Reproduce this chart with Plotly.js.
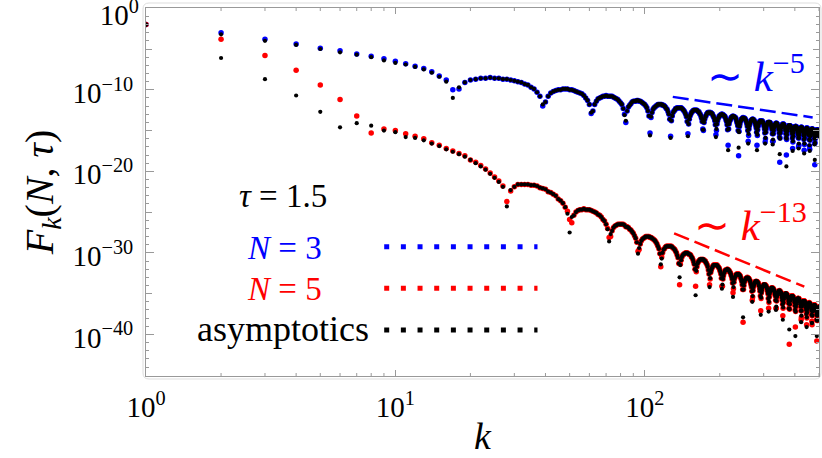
<!DOCTYPE html>
<html><head><meta charset="utf-8">
<script src="https://cdn.plot.ly/plotly-3.0.1.min.js"></script>
<style>html,body{margin:0;padding:0;background:#fff;}#chart{width:822px;height:458px;}</style>
</head><body><div id="chart"></div>
<script>
// k = 1 .. 500 ; values are log10 of F_k(N, tau), tau = 1.5
const kFirst = 1, kLast = 500;

// N = 3 (blue)
const log10F_N3 = [
-2.0,-3.0,-3.8,-4.4,-4.9,-5.2,-5.6,-5.9,-6.2,-6.5,
-6.8,-7.1,-7.4,-7.8,-8.3,-8.8,-10.0,-9.9,-9.1,
-8.8,-8.7,-8.6,-8.6,-8.5,-8.6,-8.6,-8.7,-8.7,-8.8,-8.9,-9.0,-9.1,-9.3,-9.4,-9.7,-9.9,-10.3,-10.8,-12.0,
-11.5,-10.8,-10.4,-10.2,-10.1,-10.0,-10.0,-9.9,-9.9,-9.9,-10.0,-10.0,-10.1,-10.2,-10.3,-10.4,-10.5,-10.7,-11.0,-11.3,-11.8,-12.9,
-12.6,-11.8,-11.4,-11.1,-11.0,-10.9,-10.8,-10.8,-10.7,-10.8,-10.8,-10.8,-10.8,-10.9,-11.0,-11.1,-11.2,-11.4,-11.6,-11.8,-12.3,-13.0,-14.0,
-12.6,-12.1,-11.9,-11.7,-11.5,-11.4,-11.4,-11.4,-11.3,-11.3,-11.4,-11.4,-11.5,-11.6,-11.7,-11.8,-12.0,-12.2,-12.6,-13.2,-15.3,
-13.4,-12.8,-12.4,-12.2,-12.1,-12.0,-11.9,-11.8,-11.8,-11.8,-11.8,-11.8,-11.9,-11.9,-12.0,-12.1,-12.3,-12.4,-12.7,-13.0,-13.6,-15.7,
-13.8,-13.2,-12.8,-12.6,-12.5,-12.3,-12.3,-12.2,-12.2,-12.2,-12.2,-12.2,-12.2,-12.3,-12.4,-12.5,-12.6,-12.8,-13.0,-13.3,-13.9,-15.4,
-14.2,-13.6,-13.2,-13.0,-12.8,-12.7,-12.6,-12.5,-12.5,-12.5,-12.5,-12.5,-12.5,-12.6,-12.7,-12.7,-12.9,-13.0,-13.2,-13.5,-13.9,-14.8,-15.0,
-14.0,-13.6,-13.3,-13.2,-13.0,-12.9,-12.8,-12.8,-12.8,-12.8,-12.8,-12.8,-12.9,-12.9,-13.0,-13.2,-13.3,-13.5,-13.8,-14.3,-15.5,-15.0,
-14.2,-13.8,-13.5,-13.4,-13.2,-13.2,-13.1,-13.1,-13.0,-13.0,-13.0,-13.1,-13.1,-13.2,-13.2,-13.3,-13.5,-13.7,-13.9,-14.3,-14.9,-16.8,
-14.8,-14.2,-13.9,-13.7,-13.6,-13.4,-13.4,-13.3,-13.3,-13.2,-13.3,-13.3,-13.3,-13.4,-13.4,-13.5,-13.7,-13.9,-14.1,-14.4,-15.0,-18.1,-15.1,
-14.5,-14.2,-13.9,-13.8,-13.6,-13.6,-13.5,-13.5,-13.4,-13.5,-13.5,-13.5,-13.5,-13.6,-13.7,-13.8,-14.0,-14.2,-14.5,-15.0,-16.3,-15.6,
-14.8,-14.4,-14.2,-14.0,-13.9,-13.8,-13.7,-13.7,-13.6,-13.6,-13.6,-13.7,-13.7,-13.8,-13.9,-14.0,-14.2,-14.4,-14.7,-15.2,-16.8,-15.6,
-14.9,-14.5,-14.3,-14.1,-14.0,-13.9,-13.9,-13.8,-13.8,-13.8,-13.8,-13.8,-13.9,-13.9,-14.0,-14.1,-14.3,-14.5,-14.8,-15.3,-16.4,-16.0,
-15.2,-14.8,-14.5,-14.3,-14.2,-14.1,-14.0,-14.0,-14.0,-14.0,-14.0,-14.0,-14.0,-14.1,-14.2,-14.3,-14.5,-14.7,-14.9,-15.4,-16.3,-16.3,
-15.4,-15.0,-14.7,-14.5,-14.4,-14.3,-14.2,-14.2,-14.1,-14.1,-14.1,-14.2,-14.2,-14.3,-14.4,-14.5,-14.7,-14.9,-15.3,-15.8,-18.9,-15.9,
-15.3,-15.0,-14.7,-14.6,-14.5,-14.4,-14.3,-14.3,-14.2,-14.2,-14.2,-14.3,-14.3,-14.4,-14.5,-14.6,-14.8,-15.0,-15.4,-15.9,-18.0,-16.1,
-15.5,-15.1,-14.9,-14.7,-14.6,-14.5,-14.4,-14.4,-14.4,-14.4,-14.4,-14.4,-14.5,-14.5,-14.6,-14.7,-14.9,-15.1,-15.4,-15.9,-17.2,-16.4,
-15.7,-15.3,-15.0,-14.9,-14.7,-14.6,-14.6,-14.5,-14.5,-14.5,-14.5,-14.5,-14.6,-14.6,-14.7,-14.8,-15.0,-15.2,-15.5,-15.9,-17.0,-16.8,
-15.9,-15.5,-15.2,-15.0,-14.9,-14.8,-14.7,-14.7,-14.6,-14.6,-14.6,-14.7,-14.7,-14.8,-14.8,-15.0,-15.1,-15.3,-15.6,-16.1,-17.4,-16.7,
-15.9,-15.5,-15.3,-15.1,-15.0,-14.9,-14.8,-14.8,-14.7,-14.7,-14.7,-14.8,-14.8,-14.8,-14.9,-15.0,-15.2,-15.4,-15.6,-16.1,-16.9,-17.3,
-16.2,-15.7,-15.4,-15.3,-15.1,-15.0,-14.9,-14.9,-14.8,-14.8,-14.8,-14.8,-14.9,-14.9,-15.0,-15.1,-15.2,-15.4,-15.6,-16.0,-16.6,-19.2,
-16.5,-16.0,-15.6,-15.4,-15.3,-15.1,-15.0,-15.0,-14.9,-14.9,-14.9,-14.9,-15.0,-15.0,-15.1,-15.2,-15.3,-15.5,-15.7
];

// asymptotics for N = 3 (black)
const log10F_asym3 = [
-2.0,-3.2,-4.0,-4.5,-5.0,-5.4,-5.7,-6.0,-6.4,-6.7,
-6.9,-7.2,-7.5,-7.9,-8.4,-9.0,-11.0,-9.7,-9.1,
-8.8,-8.7,-8.6,-8.6,-8.5,-8.6,-8.6,-8.7,-8.7,-8.8,-8.9,-9.0,-9.1,-9.3,-9.4,-9.7,-9.9,-10.3,-10.8,-11.8,
-11.5,-10.8,-10.4,-10.2,-10.1,-10.0,-10.0,-9.9,-9.9,-9.9,-10.0,-10.0,-10.1,-10.2,-10.3,-10.4,-10.5,-10.7,-11.0,-11.3,-11.8,-12.8,
-12.6,-11.8,-11.4,-11.1,-11.0,-10.9,-10.8,-10.8,-10.7,-10.8,-10.8,-10.8,-10.8,-10.9,-11.0,-11.1,-11.2,-11.4,-11.6,-11.8,-12.3,-13.1,-13.8,
-12.6,-12.1,-11.9,-11.7,-11.5,-11.4,-11.4,-11.4,-11.3,-11.3,-11.4,-11.4,-11.5,-11.6,-11.7,-11.8,-12.0,-12.2,-12.6,-13.2,-15.6,
-13.3,-12.8,-12.4,-12.2,-12.1,-12.0,-11.9,-11.8,-11.8,-11.8,-11.8,-11.8,-11.9,-11.9,-12.0,-12.1,-12.3,-12.4,-12.7,-13.0,-13.6,-15.9,
-13.8,-13.2,-12.8,-12.6,-12.5,-12.3,-12.3,-12.2,-12.2,-12.2,-12.2,-12.2,-12.2,-12.3,-12.4,-12.5,-12.6,-12.8,-13.0,-13.3,-13.9,-15.7,
-14.2,-13.6,-13.2,-13.0,-12.8,-12.7,-12.6,-12.5,-12.5,-12.5,-12.5,-12.5,-12.5,-12.6,-12.7,-12.7,-12.9,-13.0,-13.2,-13.5,-13.9,-14.9,-14.9,
-14.0,-13.6,-13.3,-13.2,-13.0,-12.9,-12.8,-12.8,-12.8,-12.8,-12.8,-12.8,-12.9,-12.9,-13.0,-13.2,-13.3,-13.5,-13.8,-14.3,-15.8,-14.8,
-14.2,-13.8,-13.5,-13.4,-13.2,-13.2,-13.1,-13.1,-13.0,-13.0,-13.0,-13.1,-13.1,-13.2,-13.2,-13.3,-13.5,-13.7,-13.9,-14.3,-14.9,-17.4,
-14.8,-14.2,-13.9,-13.7,-13.6,-13.4,-13.4,-13.3,-13.3,-13.2,-13.3,-13.3,-13.3,-13.4,-13.4,-13.5,-13.7,-13.9,-14.1,-14.4,-15.0,-17.1,-15.2,
-14.5,-14.2,-13.9,-13.8,-13.6,-13.6,-13.5,-13.5,-13.4,-13.5,-13.5,-13.5,-13.5,-13.6,-13.7,-13.8,-14.0,-14.2,-14.5,-15.0,-16.6,-15.4,
-14.8,-14.4,-14.2,-14.0,-13.9,-13.8,-13.7,-13.7,-13.6,-13.6,-13.6,-13.7,-13.7,-13.8,-13.9,-14.0,-14.2,-14.4,-14.7,-15.2,-17.4,-15.5,
-14.9,-14.5,-14.3,-14.1,-14.0,-13.9,-13.9,-13.8,-13.8,-13.8,-13.8,-13.8,-13.9,-13.9,-14.0,-14.1,-14.3,-14.5,-14.8,-15.3,-16.6,-15.9,
-15.2,-14.8,-14.5,-14.3,-14.2,-14.1,-14.0,-14.0,-14.0,-14.0,-14.0,-14.0,-14.0,-14.1,-14.2,-14.3,-14.5,-14.7,-14.9,-15.4,-16.7,-16.1,
-15.4,-15.0,-14.7,-14.5,-14.4,-14.3,-14.2,-14.2,-14.1,-14.1,-14.1,-14.2,-14.2,-14.3,-14.4,-14.5,-14.7,-14.9,-15.3,-15.8,-17.9,-16.0,
-15.3,-15.0,-14.7,-14.6,-14.5,-14.4,-14.3,-14.3,-14.2,-14.2,-14.2,-14.3,-14.3,-14.4,-14.5,-14.6,-14.8,-15.0,-15.4,-15.9,-19.4,-16.0,
-15.5,-15.1,-14.9,-14.7,-14.6,-14.5,-14.4,-14.4,-14.4,-14.4,-14.4,-14.4,-14.5,-14.5,-14.6,-14.7,-14.9,-15.1,-15.4,-15.9,-17.5,-16.3,
-15.7,-15.3,-15.0,-14.9,-14.7,-14.6,-14.6,-14.5,-14.5,-14.5,-14.5,-14.5,-14.6,-14.6,-14.7,-14.8,-15.0,-15.2,-15.5,-15.9,-17.2,-16.6,
-15.9,-15.5,-15.2,-15.0,-14.9,-14.8,-14.7,-14.7,-14.6,-14.6,-14.6,-14.7,-14.7,-14.8,-14.8,-15.0,-15.1,-15.3,-15.6,-16.1,-17.8,-16.6,
-15.9,-15.5,-15.3,-15.1,-15.0,-14.9,-14.8,-14.8,-14.7,-14.7,-14.7,-14.8,-14.8,-14.8,-14.9,-15.0,-15.2,-15.4,-15.6,-16.1,-16.8,-17.5,
-16.2,-15.7,-15.4,-15.3,-15.1,-15.0,-14.9,-14.9,-14.8,-14.8,-14.8,-14.8,-14.9,-14.9,-15.0,-15.1,-15.2,-15.4,-15.6,-16.0,-16.7,-18.6,
-16.5,-16.0,-15.6,-15.4,-15.3,-15.1,-15.0,-15.0,-14.9,-14.9,-14.9,-14.9,-15.0,-15.0,-15.1,-15.2,-15.3,-15.5,-15.7
];

// N = 5 (red)
const log10F_N5 = [
-2.0,-3.8,-5.8,-7.6,-9.4,-11.2,-13.2,-15.3,-14.8,-15.0,
-15.4,-15.7,-16.0,-16.5,-16.8,-17.2,-17.5,-17.8,-18.1,-18.6,-18.9,-19.3,-19.7,-20.2,-20.7,-21.2,-21.8,-23.7,
-22.4,-21.9,-21.6,-21.6,-21.6,-21.6,-21.7,-21.7,-21.8,-22.0,-22.1,-22.2,-22.5,-22.6,-22.8,-23.0,-23.4,-23.6,-23.9,-24.4,-24.9,-25.9,
-26.3,-25.4,-25.0,-24.8,-24.7,-24.7,-24.6,-24.7,-24.7,-24.7,-24.8,-24.9,-25.0,-25.1,-25.3,-25.4,-25.6,-25.9,-26.1,-26.5,-27.0,-28.1,-28.0,
-27.3,-26.9,-26.7,-26.6,-26.5,-26.5,-26.5,-26.5,-26.5,-26.6,-26.8,-26.8,-26.9,-27.1,-27.2,-27.4,-27.6,-27.9,-28.2,-28.7,-29.8,-29.6,
-28.9,-28.5,-28.3,-28.2,-28.1,-28.0,-28.0,-28.0,-28.0,-28.1,-28.1,-28.2,-28.3,-28.4,-28.5,-28.7,-28.9,-29.2,-29.5,-30.1,-31.7,-30.5,
-30.0,-29.6,-29.5,-29.3,-29.2,-29.2,-29.2,-29.2,-29.2,-29.2,-29.2,-29.3,-29.4,-29.5,-29.6,-29.8,-30.0,-30.3,-30.6,-31.3,-33.9,-31.4,
-30.9,-30.5,-30.3,-30.2,-30.1,-30.1,-30.0,-30.0,-30.0,-30.1,-30.1,-30.2,-30.2,-30.3,-30.5,-30.6,-30.8,-31.1,-31.4,-32.0,-34.1,-32.3,
-31.7,-31.3,-31.1,-31.0,-30.9,-30.8,-30.8,-30.8,-30.8,-30.8,-30.8,-30.9,-31.0,-31.0,-31.2,-31.3,-31.5,-31.7,-32.1,-32.6,-33.9,-33.2,
-32.4,-32.1,-31.9,-31.7,-31.6,-31.5,-31.5,-31.5,-31.5,-31.5,-31.5,-31.5,-31.6,-31.7,-31.8,-31.9,-32.1,-32.3,-32.6,-33.1,-34.1,-34.1,
-33.2,-32.8,-32.5,-32.3,-32.2,-32.1,-32.1,-32.1,-32.0,-32.0,-32.1,-32.1,-32.2,-32.3,-32.4,-32.5,-32.7,-32.9,-33.2,-33.7,-34.9,-34.4,
-33.6,-33.2,-33.0,-32.9,-32.7,-32.7,-32.6,-32.6,-32.6,-32.6,-32.6,-32.7,-32.7,-32.8,-32.9,-33.1,-33.3,-33.5,-33.9,-34.5,-38.5,-34.5,
-34.0,-33.6,-33.4,-33.3,-33.2,-33.1,-33.1,-33.1,-33.0,-33.1,-33.1,-33.1,-33.2,-33.3,-33.4,-33.5,-33.7,-33.9,-34.2,-34.7,-35.8,-35.4,
-34.6,-34.2,-34.0,-33.8,-33.7,-33.6,-33.5,-33.5,-33.5,-33.5,-33.5,-33.6,-33.6,-33.7,-33.8,-34.0,-34.1,-34.4,-34.7,-35.3,-37.1,-35.6,
-34.9,-34.6,-34.3,-34.2,-34.1,-34.0,-33.9,-33.9,-33.9,-33.9,-33.9,-34.0,-34.0,-34.1,-34.2,-34.3,-34.5,-34.7,-35.0,-35.6,-36.8,-36.1,
-35.4,-35.0,-34.8,-34.6,-34.5,-34.4,-34.3,-34.3,-34.3,-34.3,-34.3,-34.4,-34.4,-34.5,-34.6,-34.7,-34.9,-35.1,-35.3,-35.8,-36.8,-36.8,
-35.9,-35.4,-35.2,-35.0,-34.9,-34.8,-34.7,-34.7,-34.7,-34.6,-34.7,-34.7,-34.8,-34.8,-34.9,-35.1,-35.2,-35.5,-35.8,-36.3,-37.7,-36.8,
-36.1,-35.7,-35.5,-35.3,-35.2,-35.1,-35.0,-35.0,-35.0,-35.0,-35.0,-35.1,-35.1,-35.2,-35.3,-35.4,-35.6,-35.9,-36.2,-36.8,-41.2,-36.9,
-36.3,-35.9,-35.7,-35.6,-35.5,-35.4,-35.3,-35.3,-35.3,-35.3,-35.3,-35.4,-35.4,-35.5,-35.6,-35.7,-35.9,-36.1,-36.5,-37.0,-39.1,-37.2,
-36.6,-36.3,-36.0,-35.9,-35.8,-35.7,-35.6,-35.6,-35.6,-35.6,-35.6,-35.6,-35.7,-35.8,-35.9,-36.0,-36.1,-36.3,-36.6,-37.1,-38.2,-37.9,
-37.1,-36.6,-36.4,-36.2,-36.1,-36.0,-35.9,-35.9,-35.9,-35.9,-35.9,-35.9,-36.0,-36.0,-36.1,-36.3,-36.4,-36.7,-37.0,-37.5,-38.8,-38.0,
-37.3,-36.9,-36.6,-36.5,-36.4,-36.3,-36.2,-36.2,-36.2,-36.1,-36.2,-36.2,-36.2,-36.3,-36.4,-36.5,-36.6,-36.8,-37.1,-37.6,-38.4,-38.8,
-37.7,-37.2,-37.0,-36.8,-36.6,-36.5,-36.5,-36.4,-36.4,-36.4,-36.4,-36.4,-36.5,-36.6,-36.7,-36.8,-37.0,-37.2,-37.6,-38.2,-40.8,-38.3,
-37.7,-37.3,-37.1,-37.0,-36.8,-36.7,-36.7,-36.7,-36.6
];

// asymptotics for N = 5 (black)
const log10F_asym5 = [
-2.0,-6.1,-8.7,-10.7,-12.7,-14.6,-14.1,-14.4,-15.0,-15.2,
-15.8,-15.9,-16.2,-16.6,-16.9,-17.3,-17.6,-17.9,-18.2,-18.6,-19.0,-19.4,-19.8,-20.3,-20.8,-21.3,-21.9,-24.3,
-22.3,-21.9,-21.6,-21.6,-21.6,-21.6,-21.7,-21.7,-21.8,-22.0,-22.1,-22.2,-22.5,-22.6,-22.8,-23.0,-23.4,-23.6,-23.9,-24.4,-25.2,-27.5,
-25.6,-25.4,-25.0,-24.8,-24.7,-24.7,-24.6,-24.7,-24.7,-24.7,-24.8,-24.9,-25.0,-25.1,-25.3,-25.4,-25.6,-25.9,-26.1,-26.5,-27.1,-28.6,-27.7,
-27.3,-26.9,-26.7,-26.6,-26.5,-26.5,-26.5,-26.5,-26.5,-26.6,-26.8,-26.8,-26.9,-27.1,-27.2,-27.4,-27.6,-27.9,-28.2,-28.7,-30.1,-29.4,
-28.9,-28.5,-28.3,-28.2,-28.1,-28.0,-28.0,-28.0,-28.0,-28.1,-28.1,-28.2,-28.3,-28.4,-28.5,-28.7,-28.9,-29.2,-29.5,-30.1,-31.4,-30.7,
-30.0,-29.6,-29.5,-29.3,-29.2,-29.2,-29.2,-29.2,-29.2,-29.2,-29.2,-29.3,-29.4,-29.5,-29.6,-29.8,-30.0,-30.3,-30.6,-31.3,-33.0,-31.5,
-30.9,-30.5,-30.3,-30.2,-30.1,-30.1,-30.0,-30.0,-30.0,-30.1,-30.1,-30.2,-30.2,-30.3,-30.5,-30.6,-30.8,-31.1,-31.4,-32.0,-35.2,-32.2,
-31.7,-31.3,-31.1,-31.0,-30.9,-30.8,-30.8,-30.8,-30.8,-30.8,-30.8,-30.9,-31.0,-31.0,-31.2,-31.3,-31.5,-31.7,-32.1,-32.6,-34.2,-33.1,
-32.4,-32.1,-31.9,-31.7,-31.6,-31.5,-31.5,-31.5,-31.5,-31.5,-31.5,-31.5,-31.6,-31.7,-31.8,-31.9,-32.1,-32.3,-32.6,-33.1,-34.4,-33.9,
-33.2,-32.8,-32.5,-32.3,-32.2,-32.1,-32.1,-32.1,-32.0,-32.0,-32.1,-32.1,-32.2,-32.3,-32.4,-32.5,-32.7,-32.9,-33.2,-33.7,-35.4,-34.2,
-33.6,-33.2,-33.0,-32.9,-32.7,-32.7,-32.6,-32.6,-32.6,-32.6,-32.6,-32.7,-32.7,-32.8,-32.9,-33.1,-33.3,-33.5,-33.9,-34.5,-37.9,-34.5,
-34.0,-33.6,-33.4,-33.3,-33.2,-33.1,-33.1,-33.1,-33.0,-33.1,-33.1,-33.1,-33.2,-33.3,-33.4,-33.5,-33.7,-33.9,-34.2,-34.7,-36.0,-35.3,
-34.6,-34.2,-34.0,-33.8,-33.7,-33.6,-33.5,-33.5,-33.5,-33.5,-33.5,-33.6,-33.6,-33.7,-33.8,-34.0,-34.1,-34.4,-34.7,-35.3,-37.6,-35.5,
-34.9,-34.6,-34.3,-34.2,-34.1,-34.0,-33.9,-33.9,-33.9,-33.9,-33.9,-34.0,-34.0,-34.1,-34.2,-34.3,-34.5,-34.7,-35.0,-35.6,-37.2,-36.0,
-35.4,-35.0,-34.8,-34.6,-34.5,-34.4,-34.3,-34.3,-34.3,-34.3,-34.3,-34.4,-34.4,-34.5,-34.6,-34.7,-34.9,-35.1,-35.3,-35.8,-37.0,-36.6,
-35.9,-35.4,-35.2,-35.0,-34.9,-34.8,-34.7,-34.7,-34.7,-34.6,-34.7,-34.7,-34.8,-34.8,-34.9,-35.1,-35.2,-35.5,-35.8,-36.3,-38.2,-36.7,
-36.1,-35.7,-35.5,-35.3,-35.2,-35.1,-35.0,-35.0,-35.0,-35.0,-35.0,-35.1,-35.1,-35.2,-35.3,-35.4,-35.6,-35.9,-36.2,-36.8,-39.4,-36.9,
-36.3,-35.9,-35.7,-35.6,-35.5,-35.4,-35.3,-35.3,-35.3,-35.3,-35.3,-35.4,-35.4,-35.5,-35.6,-35.7,-35.9,-36.1,-36.5,-37.0,-40.2,-37.2,
-36.6,-36.3,-36.0,-35.9,-35.8,-35.7,-35.6,-35.6,-35.6,-35.6,-35.6,-35.6,-35.7,-35.8,-35.9,-36.0,-36.1,-36.3,-36.6,-37.1,-38.5,-37.7,
-37.1,-36.6,-36.4,-36.2,-36.1,-36.0,-35.9,-35.9,-35.9,-35.9,-35.9,-35.9,-36.0,-36.0,-36.1,-36.3,-36.4,-36.7,-37.0,-37.5,-39.1,-37.9,
-37.3,-36.9,-36.6,-36.5,-36.4,-36.3,-36.2,-36.2,-36.2,-36.1,-36.2,-36.2,-36.2,-36.3,-36.4,-36.5,-36.6,-36.8,-37.1,-37.6,-38.6,-38.6,
-37.7,-37.2,-37.0,-36.8,-36.6,-36.5,-36.5,-36.4,-36.4,-36.4,-36.4,-36.4,-36.5,-36.6,-36.7,-36.8,-37.0,-37.2,-37.6,-38.2,-40.2,-38.3,
-37.7,-37.3,-37.1,-37.0,-36.8,-36.7,-36.7,-36.7,-36.6
];

// power-law guide lines (k, log10 F)
const guideK_pow5 = [129.6, 471.6];
const guideLog10F_pow5 = [-10.87, -13.39];
const guideK_pow13 = [131.2, 436.6];
const guideLog10F_pow13 = [-27.6, -34.15];

// axis tick labels
const xTickVals = [1, 10, 100];
const xTickText = ['10<sup>0</sup>', '10<sup>1</sup>', '10<sup>2</sup>'];
const yTickExp = [-10, -20, -30, -40];
const yTickText = ['10<sup>\u221210</sup>', '10<sup>\u221220</sup>', '10<sup>\u221230</sup>', '10<sup>\u221240</sup>'];
const yTopTickExp = [0];
const yTopTickText = ['10<sup>0</sup>'];
const yMidTickExp = [-5, -15, -25, -35, -45];

const k = [];
for (let i = kFirst; i <= kLast; i++) k.push(i);
const pow10 = a => a.map(v => Math.pow(10, v));

const FONT = 'Liberation Serif, "Times New Roman", serif';
const AXC = '#999999';
const YRANGE = [-45.1, 0.03];
const XRANGE = [0, Math.log10(kLast)];

const xMinor = [];
[1, 10, 100].forEach(d => { for (let m = 2; m <= 9; m++) if (m * d <= kLast) xMinor.push(m * d); });
const yMinor = [];
for (let e = -1; e >= -45; e--) yMinor.push(Math.pow(10, e));

const traces = [
  {type: 'scatter', mode: 'markers', x: k, y: pow10(log10F_N3), marker: {color: '#0000ff', size: 5.5}, cliponaxis: true},
  {type: 'scatter', mode: 'markers', x: k, y: pow10(log10F_N5), marker: {color: '#ff0000', size: 5.5}, cliponaxis: true},
  {type: 'scatter', mode: 'markers', x: k, y: pow10(log10F_asym3), marker: {color: '#000000', size: 4.2}, cliponaxis: true},
  {type: 'scatter', mode: 'markers', x: k, y: pow10(log10F_asym5), marker: {color: '#000000', size: 4.2}, cliponaxis: true},
  {type: 'scatter', mode: 'lines', x: guideK_pow5, y: pow10(guideLog10F_pow5), line: {color: '#0000ff', width: 2.5, dash: '16px,6px'}},
  {type: 'scatter', mode: 'lines', x: guideK_pow13, y: pow10(guideLog10F_pow13), line: {color: '#ff0000', width: 2.5, dash: '16px,6px'}},
  // empty traces that only attach the extra tick-mark axes
  {type: 'scatter', mode: 'markers', x: [], y: [], xaxis: 'x', yaxis: 'y2', hoverinfo: 'skip'},
  {type: 'scatter', mode: 'markers', x: [], y: [], xaxis: 'x', yaxis: 'y3', hoverinfo: 'skip'},
  {type: 'scatter', mode: 'markers', x: [], y: [], xaxis: 'x', yaxis: 'y4', hoverinfo: 'skip'}
];

const L = 146, T = 8, W = 673, H = 368;
const px = x => (x - L) / W;
const py = y => 1 - (y - T) / H;

function legendSwatch(color, yPix) {
  return {type: 'line', xref: 'paper', yref: 'paper', x0: px(384.2), x1: px(537.5), y0: py(yPix), y1: py(yPix),
          line: {color: color, width: 5, dash: '5px,11.67px'}};
}
function roundRect(x0p, y0p, x1p, y1p, r) {
  const a = px(x0p), b = px(x1p), c = py(y0p), d = py(y1p);
  const rx = r / W, ry = r / H;
  return 'M ' + (a + rx) + ',' + c + ' L ' + (b - rx) + ',' + c + ' Q ' + b + ',' + c + ' ' + b + ',' + (c - ry) +
         ' L ' + b + ',' + (d + ry) + ' Q ' + b + ',' + d + ' ' + (b - rx) + ',' + d +
         ' L ' + (a + rx) + ',' + d + ' Q ' + a + ',' + d + ' ' + a + ',' + (d + ry) +
         ' L ' + a + ',' + (c - ry) + ' Q ' + a + ',' + c + ' ' + (a + rx) + ',' + c + ' Z';
}
function tickAxis(extra) {
  return Object.assign({showline: false, mirror: 'ticks', ticks: 'inside', tickcolor: AXC, tickwidth: 1,
    tickmode: 'array', showticklabels: false, showgrid: false, zeroline: false, automargin: false, autorange: false}, extra);
}
// minor tick marks of the k axis (bottom and top frame edges), 3 px long
const minorTickLen = 3 / H;
const xMinorShapes = [];
xMinor.forEach(v => {
  xMinorShapes.push({type: 'line', xref: 'x', yref: 'paper', x0: v, x1: v, y0: 0, y1: minorTickLen, line: {color: AXC, width: 1}});
  xMinorShapes.push({type: 'line', xref: 'x', yref: 'paper', x0: v, x1: v, y0: 1 - minorTickLen, y1: 1, line: {color: AXC, width: 1}});
});

const layout = {
  width: 822, height: 458,
  margin: {l: L, r: 822 - L - W, t: T, b: 458 - T - H, pad: 0},
  paper_bgcolor: '#ffffff', plot_bgcolor: '#ffffff',
  showlegend: false,
  font: {family: FONT, color: '#000000'},
  xaxis: {
    type: 'log', range: XRANGE, autorange: false,
    showline: true, linecolor: AXC, linewidth: 1, mirror: 'ticks',
    ticks: 'inside', ticklen: 6, tickcolor: AXC, tickwidth: 1,
    tickmode: 'array', tickvals: xTickVals, ticktext: xTickText,
    tickfont: {family: FONT, size: 29, color: '#000'},
    ticklabelstandoff: 5, ticklabeloverflow: 'allow',
    showgrid: false, zeroline: false, automargin: false,
    title: {text: '<i>k</i>', font: {family: FONT, size: 38, color: '#000'}, standoff: 0}
  },
  yaxis: {
    type: 'log', range: YRANGE, autorange: false,
    showline: true, linecolor: AXC, linewidth: 1, mirror: 'ticks',
    ticks: 'inside', ticklen: 8, tickcolor: AXC, tickwidth: 1,
    tickmode: 'array', tickvals: yTickExp.map(e => Math.pow(10, e)), ticktext: yTickText,
    tickfont: {family: FONT, size: 29, color: '#000'},
    ticklabelstandoff: 6, ticklabelshift: 3, ticklabeloverflow: 'allow',
    showgrid: false, zeroline: false, automargin: false,
    title: {text: '<i>F<sub>k</sub></i>(<i>N</i>, <i>\u03C4</i>)', font: {family: FONT, size: 40, color: '#000'}, standoff: 6}
  },
  yaxis2: tickAxis({type: 'log', range: YRANGE, overlaying: 'y', anchor: 'x', side: 'left', ticklen: 6,
    tickvals: yMidTickExp.map(e => Math.pow(10, e))}),
  yaxis3: tickAxis({type: 'log', range: YRANGE, overlaying: 'y', anchor: 'x', side: 'left', ticklen: 3, tickvals: yMinor}),
  yaxis4: tickAxis({type: 'log', range: YRANGE, overlaying: 'y', anchor: 'x', side: 'left', ticklen: 8,
    tickvals: yTopTickExp.map(e => Math.pow(10, e)), ticktext: yTopTickText, showticklabels: true,
    tickfont: {family: FONT, size: 29, color: '#000'},
    ticklabelstandoff: 6, ticklabelshift: 7, ticklabeloverflow: 'allow'}),
  shapes: [
    {type: 'path', xref: 'paper', yref: 'paper', path: roundRect(143, 3, 821, 379, 6), line: {color: '#dddddd', width: 1}, layer: 'below'},
    legendSwatch('#0000ff', 246.7),
    legendSwatch('#ff0000', 288.3),
    legendSwatch('#000000', 330)
  ].concat(xMinorShapes),
  annotations: [
    {xref: 'paper', yref: 'paper', x: px(283), y: py(196), text: '<i>\u03C4</i> = 1.5', showarrow: false,
     xanchor: 'center', yanchor: 'middle', font: {family: FONT, size: 33, color: '#000'}},
    {xref: 'paper', yref: 'paper', x: px(284), y: py(248), text: '<i>N</i> = 3', showarrow: false,
     xanchor: 'center', yanchor: 'middle', font: {family: FONT, size: 33, color: '#0000ff'}},
    {xref: 'paper', yref: 'paper', x: px(284), y: py(289), text: '<i>N</i> = 5', showarrow: false,
     xanchor: 'center', yanchor: 'middle', font: {family: FONT, size: 33, color: '#ff0000'}},
    {xref: 'paper', yref: 'paper', x: px(283), y: py(329), text: 'asymptotics', showarrow: false,
     xanchor: 'center', yanchor: 'middle', font: {family: FONT, size: 36, color: '#000'}},
    {xref: 'paper', yref: 'paper', x: px(756), y: py(73), text: '\u223C <i>k</i><sup>\u22125</sup>', showarrow: false,
     xanchor: 'center', yanchor: 'middle', font: {family: FONT, size: 43, color: '#0000ff'}},
    {xref: 'paper', yref: 'paper', x: px(750), y: py(222), text: '\u223C <i>k</i><sup>\u221213</sup>', showarrow: false,
     xanchor: 'center', yanchor: 'middle', font: {family: FONT, size: 43, color: '#ff0000'}}
  ]
};

Plotly.newPlot('chart', traces, layout, {staticPlot: true, displayModeBar: false});
</script>
</body></html>
